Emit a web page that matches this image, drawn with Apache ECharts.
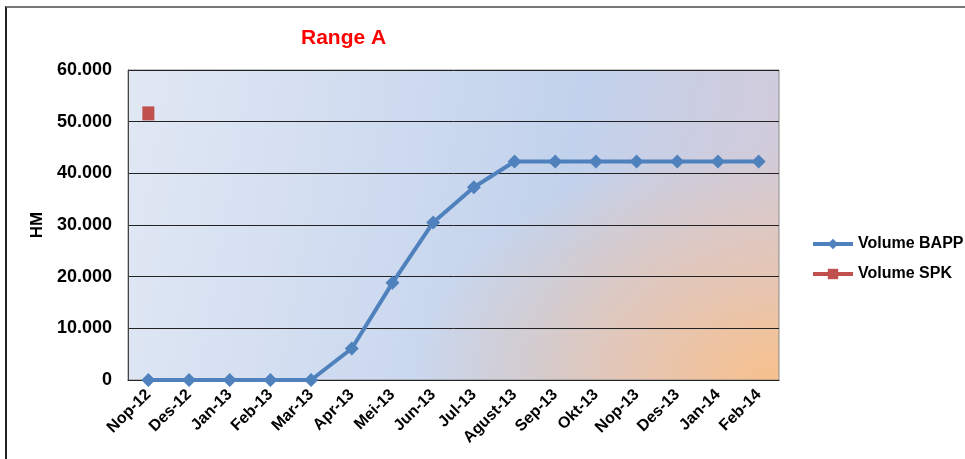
<!DOCTYPE html>
<html>
<head>
<meta charset="utf-8">
<script src="https://cdn.jsdelivr.net/npm/echarts@6/dist/echarts.min.js"></script>
<style>
  html, body { margin: 0; padding: 0; background: #fff; }
  #frame { position: absolute; left: 5px; top: 6px; width: 970px; height: 460px;
           border-top: 2px solid #777; border-left: 2px solid #222; }
  /* plot-area fill: blue wash left, peach glow bottom right */
  #plotbg { position: absolute; left: 128px; top: 70px; width: 651px; height: 310px;
    background:
      radial-gradient(ellipse 70% 95% at 100% 100%, rgba(247,192,140,1) 0%, rgba(236,196,168,0.75) 35%, rgba(215,200,210,0) 80%),
      linear-gradient(100deg, #e1e8f4 0%, #d0dcf0 35%, #c2d2ec 65%, #cdcde0 85%, #d3cbd8 100%); }
  #chart { position: absolute; left: 0; top: 0; width: 965px; height: 459px; }
</style>
</head>
<body>
<div id="frame"></div>
<div id="plotbg"></div>
<div id="chart"></div>
<script>
const months = ["Nop-12", "Des-12", "Jan-13", "Feb-13", "Mar-13", "Apr-13", "Mei-13", "Jun-13",
  "Jul-13", "Agust-13", "Sep-13", "Okt-13", "Nop-13", "Des-13", "Jan-14", "Feb-14"];
const volumeBapp = [0, 0, 0, 0, 0, 6100, 18800, 30500, 37300, 42300, 42300, 42300, 42300, 42300, 42300, 42300];
const volumeSpk = [51600, null, null, null, null, null, null, null, null, null, null, null, null, null, null, null];
const yTicks = [0, 10000, 20000, 30000, 40000, 50000, 60000];

const chart = echarts.init(document.getElementById("chart"));
const font = "Liberation Sans, Arial, sans-serif";

chart.setOption({
  animation: false,
  backgroundColor: "transparent",
  title: {
    text: "Range A",
    left: 296, top: 23,
    textStyle: { color: "#ff0000", fontSize: 21, fontWeight: "bold", fontFamily: font }
  },
  legend: {
    orient: "vertical",
    left: 806, top: 231,
    itemWidth: 40, itemHeight: 13, itemGap: 14,
    lineStyle: { width: 4 },
    textStyle: { fontSize: 16, fontWeight: "bold", color: "#000", fontFamily: font },
    data: ["Volume BAPP", "Volume SPK"]
  },
  grid: {
    left: 128, right: 186, top: 70, bottom: 79,
    show: true, borderColor: "#8a8a8a", borderWidth: 1,
    backgroundColor: "transparent"
  },
  xAxis: {
    type: "category",
    data: months,
    boundaryGap: true,
    axisLine: { lineStyle: { color: "#222", width: 1 } },
    axisTick: { show: false },
    axisLabel: {
      rotate: 45, interval: 0, margin: 12,
      fontSize: 16, fontWeight: "bold", color: "#000", fontFamily: font
    }
  },
  yAxis: {
    type: "value",
    min: yTicks[0], max: yTicks[yTicks.length - 1], interval: yTicks[1] - yTicks[0],
    name: "HM",
    nameLocation: "middle", nameGap: 80, nameRotate: 90,
    nameTextStyle: { fontSize: 17, fontWeight: "bold", color: "#000", fontFamily: font },
    axisLine: { show: true, lineStyle: { color: "#444", width: 1 } },
    axisTick: { show: false },
    splitLine: { lineStyle: { color: "#222", width: 1 } },
    axisLabel: {
      margin: 16, fontSize: 18, fontWeight: "bold", color: "#000", fontFamily: font,
      formatter: v => v === 0 ? "0" : (v / 1000).toFixed(0) + ".000"
    }
  },
  series: [
    {
      name: "Volume BAPP",
      type: "line",
      data: volumeBapp,
      symbol: "diamond",
      symbolSize: 14,
      lineStyle: { color: "#4f81bd", width: 4 },
      itemStyle: { color: "#4f81bd" }
    },
    {
      name: "Volume SPK",
      type: "line",
      data: volumeSpk,
      symbol: "rect",
      symbolSize: [12, 14],
      lineStyle: { color: "#c0504d", width: 4 },
      itemStyle: { color: "#c0504d" }
    }
  ]
});
</script>
</body>
</html>
